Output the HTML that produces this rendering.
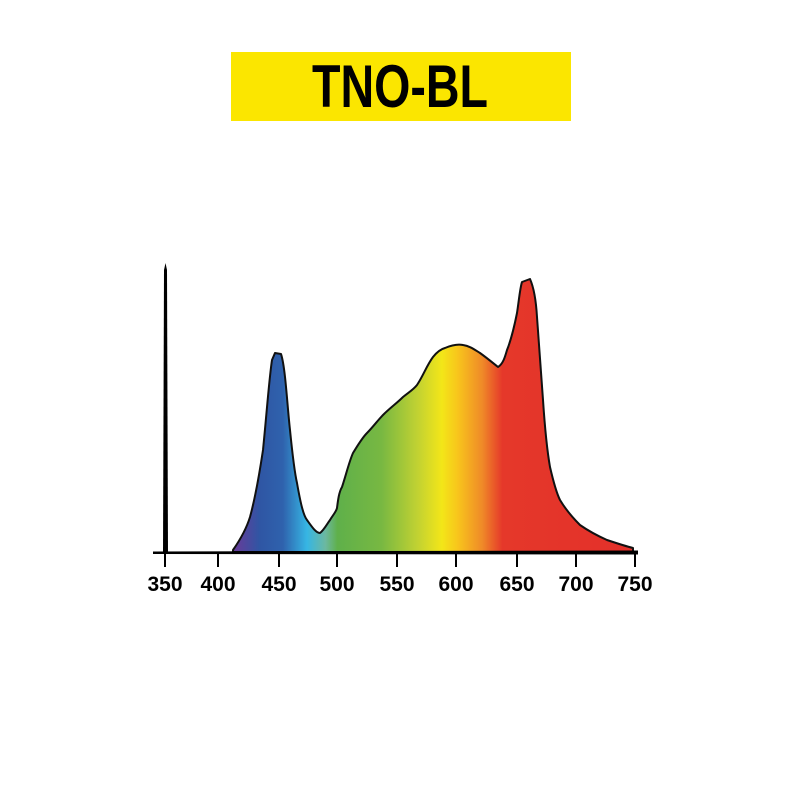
<!DOCTYPE html>
<html><head><style>html,body{margin:0;padding:0;background:#fff;width:800px;height:800px;overflow:hidden}</style></head>
<body>
<svg width="800" height="800" viewBox="0 0 800 800" xmlns="http://www.w3.org/2000/svg">
<defs>
<linearGradient id="g" gradientUnits="userSpaceOnUse" x1="233" y1="0" x2="635" y2="0">
<stop offset="0" stop-color="#6a3a98"/>
<stop offset="0.067" stop-color="#2f56a4"/>
<stop offset="0.124" stop-color="#2f62ad"/>
<stop offset="0.184" stop-color="#36b6e4"/>
<stop offset="0.23" stop-color="#6cb8a0"/>
<stop offset="0.26" stop-color="#5fb04a"/>
<stop offset="0.37" stop-color="#78b842"/>
<stop offset="0.46" stop-color="#c2d232"/>
<stop offset="0.52" stop-color="#f3e618"/>
<stop offset="0.56" stop-color="#f8c41c"/>
<stop offset="0.62" stop-color="#ef8a28"/>
<stop offset="0.67" stop-color="#e5382a"/>
<stop offset="1" stop-color="#e3302a"/>
</linearGradient>
</defs>
<rect x="231" y="52" width="340" height="69" fill="#fbe600"/>
<text x="400" y="107" text-anchor="middle" font-family="Liberation Sans, sans-serif" font-weight="bold" font-size="60" textLength="176" lengthAdjust="spacingAndGlyphs" fill="#000">TNO-BL</text>
<path d="M233,550 C240,540 246,530 250,517 C256,495 260,470 263,450 C267,410 269,380 272,360 L275,353 L281,354 C283,360 284,368 285,377 C287,395 288,412 290,430 C292,450 294,470 297,483 C300,500 303,515 307,520 C312,527 316,533 320,533 C324,530 327,524 330,520 C333,515 336,512 337,508 C338,500 339,492 342,487 C346,475 349,462 353,453 C358,445 362,438 367,433 C373,427 378,420 383,415 C390,408 397,403 403,397 C409,392 413,390 417,385 C423,376 427,365 433,357 C437,352 441,349 445,348 C452,345 458,344 463,345 C470,346 475,350 480,353 C487,358 493,363 498,367 C503,364 505,357 507,350 C511,340 514,328 517,313 C519,300 520,288 522,282 L530,279 C534,288 536,300 537,317 C539,345 541,372 543,400 C545,430 547,450 550,467 C553,480 556,492 560,500 C566,510 573,518 580,525 C590,532 598,536 607,540 C616,543 625,546 633,548 L633,552 L233,552 Z" fill="url(#g)" stroke="#111" stroke-width="2" stroke-linejoin="round"/>
<path d="M163,553 L164,270 L165.5,263 L167,270 L168,553 Z" fill="#000"/>
<path d="M153,551.5 L638,550.5 L638,554.5 L153,554 Z" fill="#000"/>
<g stroke="#000" stroke-width="2">
<line x1="165" y1="553" x2="165" y2="567"/><line x1="218" y1="553" x2="218" y2="567"/><line x1="279" y1="553" x2="279" y2="567"/><line x1="337" y1="553" x2="337" y2="567"/><line x1="397" y1="553" x2="397" y2="567"/><line x1="456" y1="553" x2="456" y2="567"/><line x1="517" y1="553" x2="517" y2="567"/><line x1="576" y1="553" x2="576" y2="567"/><line x1="635" y1="553" x2="635" y2="567"/>
</g>
<g font-family="Liberation Sans, sans-serif" font-size="21" font-weight="bold" text-anchor="middle" fill="#000">
<text x="165" y="591">350</text><text x="218" y="591">400</text><text x="279" y="591">450</text><text x="337" y="591">500</text><text x="397" y="591">550</text><text x="456" y="591">600</text><text x="517" y="591">650</text><text x="576" y="591">700</text><text x="635" y="591">750</text>
</g>
</svg>
</body></html>
